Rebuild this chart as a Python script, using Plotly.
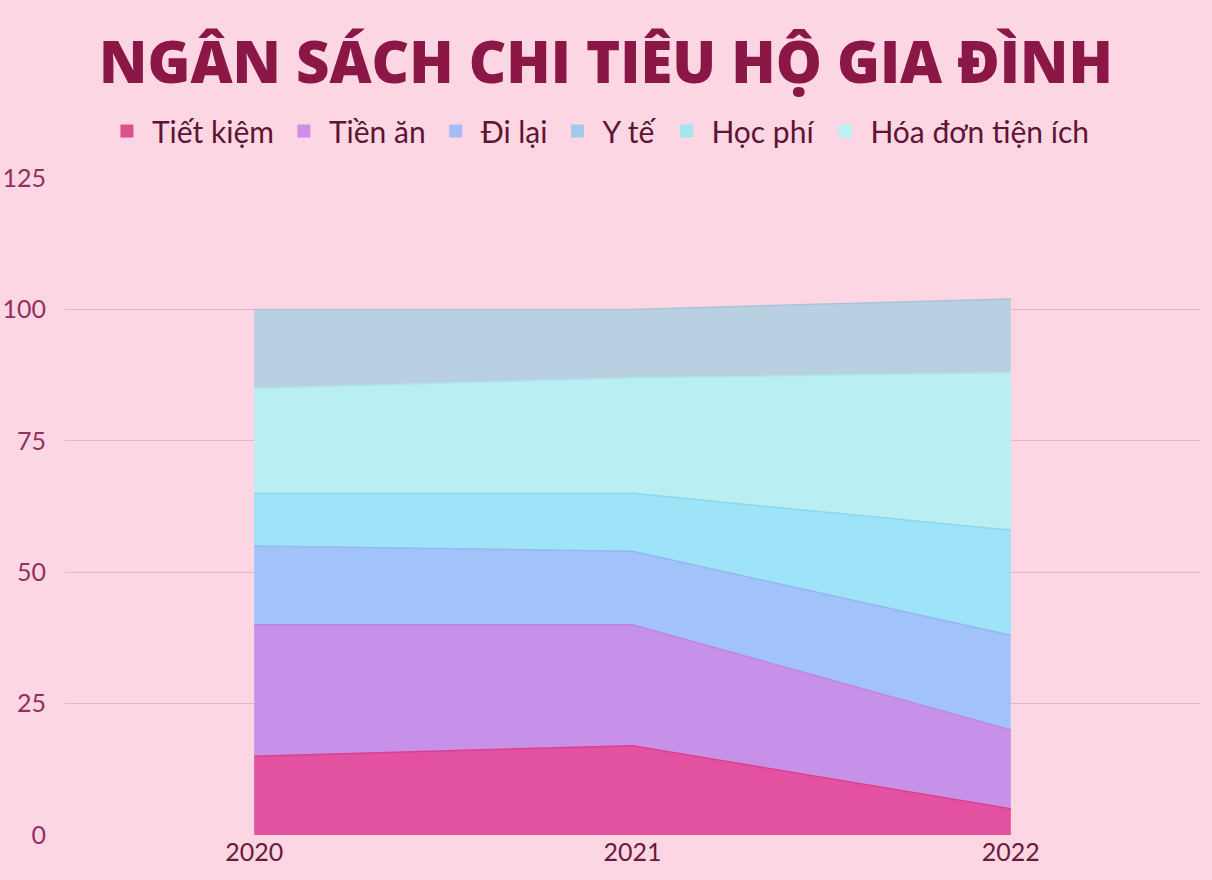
import plotly.graph_objects as go

years = [2020, 2021, 2022]
series_names = ["Tiết kiệm", "Tiền ăn", "Đi lại", "Y tế", "Học phí", "Hóa đơn tiện ích"]
tiet_kiem = [15, 17, 5]
tien_an = [25, 23, 15]
di_lai = [15, 14, 18]
y_te = [10, 11, 20]
hoc_phi = [20, 22, 30]
hoa_don = [15, 13, 14]
values = [tiet_kiem, tien_an, di_lai, y_te, hoc_phi, hoa_don]

fill_colors = ["#e352a0", "#c791ea", "#a2c3fa", "#9de4f8", "#b9eef2", "#b9d0e2"]
line_colors = ["#dc3f8c", "#bf84e2", "#98b6ee", "#8fd6ec", "#aee4ea", "#a9c4d8"]
legend_colors = ["#d9508a", "#cf8fe6", "#a6bcf4", "#a2c8ea", "#a4e6f0", "#b8f2f4"]

fig = go.Figure()
for name, vals, fc, lc in zip(series_names, values, fill_colors, line_colors):
    fig.add_trace(go.Scatter(
        x=years, y=vals, name=name, mode="lines",
        stackgroup="one", fillcolor=fc,
        line=dict(color=lc, width=1.5), showlegend=False,
    ))
# legend entries with square swatches
for name, c in zip(series_names, legend_colors):
    fig.add_trace(go.Scatter(
        x=[None], y=[None], name=name, mode="markers",
        marker=dict(symbol="square", size=13, color=c), showlegend=True,
    ))

fig.update_layout(
    width=1212, height=880,
    paper_bgcolor="#fdd6e3", plot_bgcolor="#fdd6e3",
    margin=dict(l=65, r=12, t=178, b=45),
    title=dict(text="NGÂN SÁCH CHI TIÊU HỘ GIA ĐÌNH",
               x=0.5, xanchor="center", y=1 - 63 / 880, yanchor="middle",
               font=dict(family="Open Sans", size=58, color="#8a1746", weight=800)),
    legend=dict(orientation="h", x=0.470, xanchor="center", y=1.0715, yanchor="middle",
                font=dict(family="Lato", size=30, color="#5e1434"),
                bgcolor="rgba(0,0,0,0)", itemwidth=40, traceorder="normal"),
    showlegend=True,
)
fig.update_xaxes(range=[2019.5, 2022.5], tickvals=years, ticktext=[str(y) for y in years],
                 showgrid=False, zeroline=False, showline=False, automargin=False,
                 tickfont=dict(family="Lato", size=25, color="#6b1a3c"))
fig.update_yaxes(range=[0, 125], tickvals=[0, 25, 50, 75, 100, 125], automargin=False,
                 showgrid=True, gridcolor="#eab2c6", gridwidth=1, zeroline=False,
                 tickfont=dict(family="Lato", size=25, color="#94305f"), ticklabelstandoff=18)

fig.write_html("out.html")
